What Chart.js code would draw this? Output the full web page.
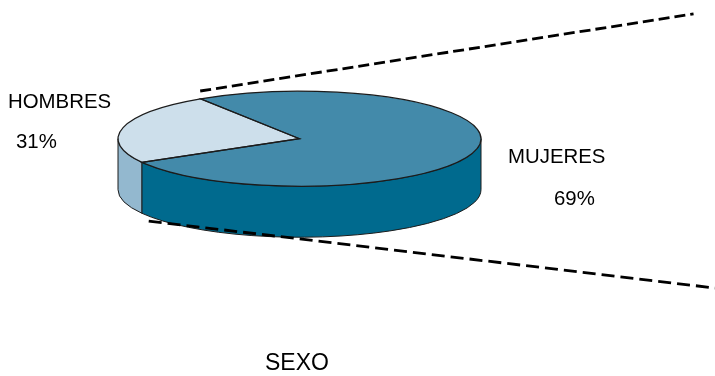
<!DOCTYPE html>
<html>
<head>
<meta charset="utf-8">
<title>SEXO</title>
<script src="https://cdn.jsdelivr.net/npm/chart.js@4"></script>
<style>
    html, body { margin: 0; padding: 0; background: #fff; }
    .layer { width: 715px; height: 376px; position: absolute; left: 0; top: 0; }
</style>
</head>
<body>
<div class="layer"><canvas id="pieChart"></canvas></div>
<div class="layer"><canvas id="guideChart"></canvas></div>
<script>
// Data
const categories = ['HOMBRES', 'MUJERES'];
const percentLabels = ['31%', '69%'];
// Size of the wedges as they are drawn. The picture's wedge is narrower than its 31% label.
const drawnShares = [24.1, 75.9];
const chartTitle = 'SEXO';

// Dashed guide lines, in percent of the plot width / height
const upperGuideX = [28, 97];
const upperGuideY = [75.8, 96.3];
const lowerGuideX = [20.8, 100];
const lowerGuideY = [41.2, 23.4];

// Look of the fake 3D
const topColors = ['#cddfeb', '#438aaa'];
const wallColors = ['#93b8cf', '#006a8e'];
const pieCenter = { x: 299.5, y: 138.7 };
const tilt = 0.262;
const depth = 51;

const textItems = [
    { text: categories[0], x: 8, y: 108, size: 20.4 },
    { text: percentLabels[0], x: 16, y: 148, size: 20.4 },
    { text: categories[1], x: 508, y: 163, size: 20.4 },
    { text: percentLabels[1], x: 554, y: 205, size: 20.4 },
    { text: chartTitle, x: 265, y: 370, size: 23 }
];

const FULL = Math.PI * 2;

// Squashes the pie and draws walls and outlines around what Chart.js fills
const pie3d = {
    id: 'pie3d',
    beforeDatasetDraw(chart, args) {
        const ctx = chart.ctx;
        args.meta.data.forEach((arc, i) => {
            const p = arc.getProps(['startAngle', 'endAngle', 'outerRadius']);
            wallSpans(p.startAngle, p.endAngle).forEach(span => {
                wallPath(ctx, p.outerRadius, span[0], span[1]);
                ctx.fillStyle = wallColors[i];
                ctx.fill();
                ctx.strokeStyle = '#1c1c1c';
                ctx.lineWidth = 1;
                ctx.stroke();
            });
        });
        ctx.save();
        ctx.translate(pieCenter.x, pieCenter.y);
        ctx.scale(1, tilt);
        ctx.translate(-args.meta.data[0].x, -args.meta.data[0].y);
    },
    afterDatasetDraw(chart, args) {
        const ctx = chart.ctx;
        ctx.restore();
        args.meta.data.forEach(arc => {
            const p = arc.getProps(['startAngle', 'endAngle', 'outerRadius']);
            ctx.beginPath();
            ctx.moveTo(pieCenter.x, pieCenter.y);
            ctx.ellipse(pieCenter.x, pieCenter.y, p.outerRadius, p.outerRadius * tilt, 0, p.startAngle, p.endAngle);
            ctx.closePath();
            ctx.strokeStyle = '#1c1c1c';
            ctx.lineWidth = 1.2;
            ctx.stroke();
        });
    },
    afterDraw(chart) {
        const ctx = chart.ctx;
        ctx.fillStyle = '#000';
        ctx.textAlign = 'left';
        ctx.textBaseline = 'alphabetic';
        textItems.forEach(t => {
            ctx.font = t.size + 'px "Liberation Sans", Arial, sans-serif';
            ctx.fillText(t.text, t.x, t.y);
        });
    }
};

// Parts of an arc that face the viewer (lower half of the ellipse)
function wallSpans(start, end) {
    const spans = [];
    for (let k = -1; k <= 2; k++) {
        const a = Math.max(start, k * FULL);
        const b = Math.min(end, k * FULL + Math.PI);
        if (b > a) spans.push([a, b]);
    }
    return spans;
}

function wallPath(ctx, r, a, b) {
    const ry = r * tilt;
    ctx.beginPath();
    ctx.ellipse(pieCenter.x, pieCenter.y, r, ry, 0, a, b);
    ctx.ellipse(pieCenter.x, pieCenter.y + depth, r, ry, 0, b, a, true);
    ctx.closePath();
}

function toPoints(xs, ys) {
    return xs.map((x, i) => ({ x: x, y: ys[i] }));
}

function guideDataset(xs, ys, dash) {
    return {
        data: toPoints(xs, ys),
        showLine: true,
        borderColor: '#000',
        borderWidth: 2.8,
        borderDash: dash,
        pointRadius: 0,
        clip: false
    };
}

new Chart(document.getElementById('pieChart'), {
    type: 'pie',
    data: {
        labels: categories,
        datasets: [{
            data: drawnShares,
            backgroundColor: topColors,
            borderWidth: 0,
            radius: 181.5,
            rotation: 240.2,
            clip: false
        }]
    },
    options: {
        responsive: true,
        maintainAspectRatio: false,
        animation: false,
        plugins: {
            legend: { display: false },
            tooltip: { enabled: false }
        }
    },
    plugins: [pie3d]
});

// A pie can't share a chart with scaled datasets, so the guides sit on their own canvas on top
new Chart(document.getElementById('guideChart'), {
    type: 'scatter',
    data: {
        datasets: [
            guideDataset(upperGuideX, upperGuideY, [11, 5]),
            guideDataset(lowerGuideX, lowerGuideY, [13, 6])
        ]
    },
    options: {
        responsive: true,
        maintainAspectRatio: false,
        animation: false,
        scales: {
            x: { min: 0, max: 100, display: false },
            y: { min: 0, max: 100, display: false }
        },
        plugins: {
            legend: { display: false },
            tooltip: { enabled: false }
        }
    }
});
</script>
</body>
</html>
